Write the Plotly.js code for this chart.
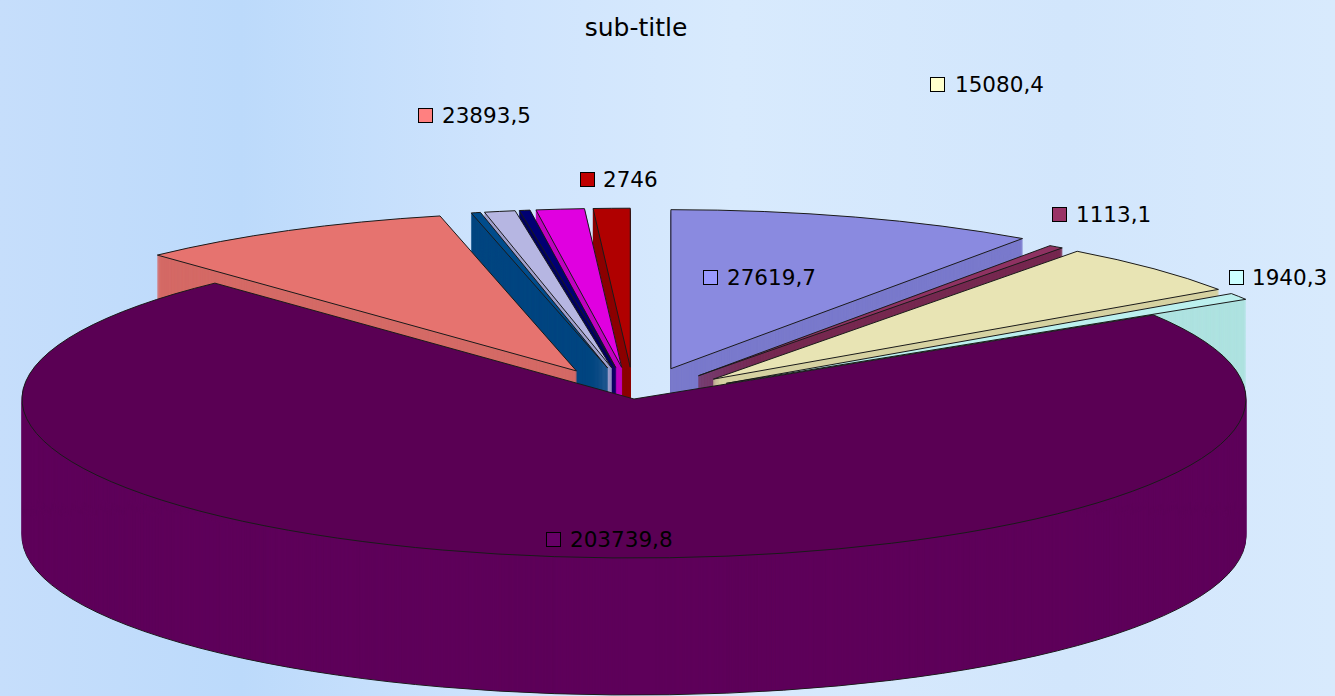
<!DOCTYPE html>
<html>
<head>
<meta charset="utf-8">
<script src="https://cdn.plot.ly/plotly-3.0.1.min.js"></script>
<style>
html,body{margin:0;padding:0;width:1335px;height:696px;overflow:hidden;}
body{background:linear-gradient(90deg,#c6defb 0%,#bcdafb 18%,#cfe4fd 38%,#d8eafd 55%,#d2e6fc 80%,#d8eafd 100%);}
#chart{width:1335px;height:696px;}
.pielayer path{vector-effect:non-scaling-stroke;}
</style>
</head>
<body>
<div id="chart"></div>
<script>
// ---- data ----
const categories = ['1','2','3','4','5','6','7','8','9','10','11'];
const values = [27619.7, 1113.1, 15080.4, 1940.3, 203739.8, 23893.5, 700, 2300, 800, 3600, 2746];
const labelledIdx = [0, 1, 2, 3, 4, 5, 10];
const subTitle = 'sub-title';

// ---- styles ----
const topColors  = ['#8a8ae0','#8f3262','#e8e4b4','#bcf0ee','#5a0054','#e6736f','#004c8c','#b6b6e2','#000072','#e000e0','#b00000'];
const sideColors = ['#7a7acc','#762850','#d6d2a2','#aee2e0','#5e005a','#d46a66','#004680','#a0a0cc','#00005e','#c000c0','#8c0000'];
const keyColors  = ['#9999ff','#993366','#ffffcc','#ccffff','#660066','#ff8080','#0066cc','#ccccff','#000080','#ff00ff','#c00000'];
const pulls = [0.2,0.18,0.18,0.18,0,0.2,0.2,0.2,0.2,0.2,0.2];

// projection of the pie disc (screen px)
const CX = 634, CY = 399, RX = 612, RY = 159, DEPTH = 137, NSIDE = 137;

// label placement (key centre x, centre y, text x)
const labelPos = {
  0: [710, 278, 725],
  1: [1059, 214, 1074],
  2: [937, 85, 953],
  3: [1236, 277, 1250],
  4: [553, 539, 568],
  5: [425, 115, 440],
  10: [587, 179, 601]
};

const W = 1335, H = 696;
const fmt = v => String(v).replace('.', ',');

const traces = [];
const offsets = [];
for (let k = NSIDE; k >= 1; k--) {
  const bottom = (k === NSIDE);
  traces.push({
    type: 'pie', values: values, labels: categories, sort: false,
    direction: 'clockwise', rotation: 0, pull: pulls,
    textinfo: 'none', hoverinfo: 'skip', showlegend: false,
    marker: {colors: sideColors,
             line: {color: bottom ? '#1a1a1a' : sideColors, width: bottom ? 1 : 0.5}}
  });
  offsets.push(DEPTH * k / NSIDE);
}
traces.push({
  type: 'pie', values: values, labels: categories, sort: false,
  direction: 'clockwise', rotation: 0, pull: pulls,
  textinfo: 'none', hoverinfo: 'skip', showlegend: false,
  marker: {colors: topColors, line: {color: '#1a1a1a', width: 1}}
});
offsets.push(0);

const annotations = [];
labelledIdx.forEach(i => {
  const p = labelPos[i];
  annotations.push({
    xref: 'paper', yref: 'paper', x: p[0] / W, y: 1 - p[1] / H,
    xanchor: 'center', yanchor: 'middle', text: ' ', showarrow: false,
    width: 13, height: 13, borderpad: 0, borderwidth: 1, bordercolor: '#000',
    bgcolor: keyColors[i], font: {size: 6}
  });
  annotations.push({
    xref: 'paper', yref: 'paper', x: p[2] / W, y: 1 - p[1] / H,
    xanchor: 'left', yanchor: 'middle', text: fmt(values[i]), showarrow: false,
    font: {family: 'DejaVu Sans', size: 21.5, color: '#000'}
  });
});

const layout = {
  width: W, height: H,
  margin: {l: 0, r: 0, t: 0, b: 0},
  paper_bgcolor: 'rgba(0,0,0,0)', plot_bgcolor: 'rgba(0,0,0,0)',
  title: {text: subTitle, x: 636 / W, xanchor: 'center', y: 1 - 27 / H, yanchor: 'middle',
          yref: 'container', font: {family: 'DejaVu Sans', size: 25, color: '#000'}},
  showlegend: false,
  annotations: annotations
};

Plotly.newPlot('chart', traces, layout, {staticPlot: true}).then(gd => {
  const groups = gd.querySelectorAll('.pielayer .trace');
  groups.forEach((g, i) => {
    const cd0 = gd.calcdata[i][0];
    const r = cd0.r, cx = cd0.cx, cy = cd0.cy;
    const prev = g.getAttribute('transform') || '';
    g.setAttribute('transform',
      'translate(' + CX + ',' + (CY + offsets[i]) + ') scale(' + (RX / r) + ',' + (RY / r) + ') translate(' + (-cx) + ',' + (-cy) + ') ' + prev);
  });
});
</script>
</body>
</html>
